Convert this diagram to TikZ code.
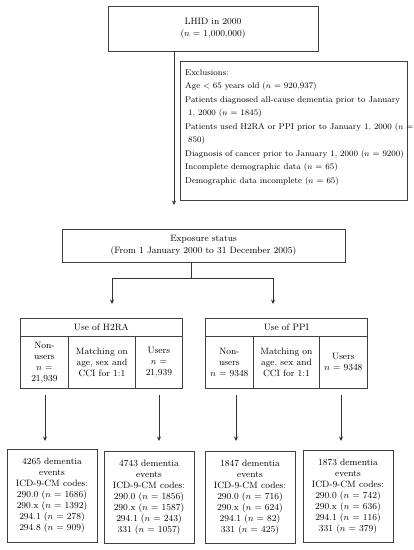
\documentclass[tikz,border=0pt]{standalone}
\usetikzlibrary{arrows.meta}
\begin{document}
\begin{tikzpicture}[x=1pt,y=-1pt,
  font=\fontsize{9.2}{11}\selectfont,
  box/.style={draw=black!75, line width=0.8pt, align=center, inner sep=1pt},
  cell/.style={box, anchor=north west},
  conn/.style={draw=black!80, line width=0.9pt},
  arr/.style={conn, -{Stealth[length=4.5pt,width=4pt]}}]
\useasboundingbox (0,0) rectangle (414,550);

\node[box, minimum width=210pt, minimum height=45pt, font=\fontsize{9.2}{12}\selectfont] (lhid) at (213,28.5)
  {LHID in 2000\\($n$ = 1,000,000)};

\node[box, anchor=north west, minimum width=227pt, minimum height=139pt] (excl) at (180,61) {};
\node[anchor=north west, align=left, inner sep=0pt, font=\fontsize{8.4}{13.5}\selectfont] (excltext) at (185,69)
  {Exclusions:\\
   Age $<$ 65 years old ($n$ = 920,937)\\
   Patients diagnosed all-cause dementia prior to January\\
   \hspace*{3pt}1, 2000 ($n$ = 1845)\\
   Patients used H2RA or PPI prior to January 1, 2000 ($n$ =\\
   \hspace*{3pt}850)\\
   Diagnosis of cancer prior to January 1, 2000 ($n$ = 9200)\\
   Incomplete demographic data ($n$ = 65)\\
   Demographic data incomplete ($n$ = 65)};

\coordinate (a1) at (174,205);
\draw[arr] (lhid.south -| a1) -- (a1);

\node[box, minimum width=283pt, minimum height=33pt, font=\fontsize{9.2}{12}\selectfont] (exp) at (203.5,245.5)
  {Exposure status\\(From 1 January 2000 to 31 December 2005)};

\coordinate (b0) at (191,278);
\coordinate (bl) at (112,278);
\coordinate (br) at (273,278);
\coordinate (tl) at (112,304);
\coordinate (tr) at (273,304);
\draw[conn] (exp.south -| b0) -- (b0);
\draw[conn] (bl) -- (br);
\draw[arr] (bl) -- (tl);
\draw[arr] (br) -- (tr);

% H2RA table
\node[cell, minimum width=162pt, minimum height=18pt] (h2hd) at (20,318) {Use of H2RA};
\node[cell, minimum width=48pt, minimum height=52pt] (h2a) at (20,336) {Non-\\users\\$n$ =\\21,939};
\node[cell, minimum width=67pt, minimum height=52pt] (h2b) at (68,336) {Matching on\\age, sex and\\CCI for 1:1};
\node[cell, minimum width=47pt, minimum height=52pt] (h2c) at (135,336) {Users\\$n$ =\\21,939};

% PPI table
\node[cell, minimum width=162pt, minimum height=18pt] (pphd) at (205,318) {Use of PPI};
\node[cell, minimum width=48pt, minimum height=52pt] (ppa) at (205,336) {Non-\\users\\$n$ = 9348};
\node[cell, minimum width=66pt, minimum height=52pt] (ppb) at (253,336) {Matching on\\age, sex and\\CCI for 1:1};
\node[cell, minimum width=48pt, minimum height=52pt] (ppc) at (319,336) {Users\\$n$ = 9348};

% down arrows
\coordinate (s1) at (45,395);  \coordinate (d1) at (45,441);
\coordinate (s2) at (159,395); \coordinate (d2) at (159,441);
\coordinate (s3) at (236,395); \coordinate (d3) at (236,441);
\coordinate (s4) at (341,395); \coordinate (d4) at (341,441);
\draw[arr] (s1) -- (d1);
\draw[arr] (s2) -- (d2);
\draw[arr] (s3) -- (d3);
\draw[arr] (s4) -- (d4);

% event boxes
\node[box, minimum width=90pt, minimum height=93pt] (e1) at (52,495.5)
  {4265 dementia\\events\\ICD-9-CM codes:\\290.0 ($n$ = 1686)\\290.x ($n$ = 1392)\\294.1 ($n$ = 278)\\294.8 ($n$ = 909)};
\node[box, minimum width=90pt, minimum height=92pt] (e2) at (149,497)
  {4743 dementia\\events\\ICD-9-CM codes:\\290.0 ($n$ = 1856)\\290.x ($n$ = 1587)\\294.1 ($n$ = 243)\\331 ($n$ = 1057)};
\node[box, minimum width=90pt, minimum height=92pt] (e3) at (250,497)
  {1847 dementia\\events\\ICD-9-CM codes:\\290.0 ($n$ = 716)\\290.x ($n$ = 624)\\294.1 ($n$ = 82)\\331 ($n$ = 425)};
\node[box, minimum width=90pt, minimum height=92pt] (e4) at (348,496)
  {1873 dementia\\events\\ICD-9-CM codes:\\290.0 ($n$ = 742)\\290.x ($n$ = 636)\\294.1 ($n$ = 116)\\331 ($n$ = 379)};
\end{tikzpicture}
\end{document}
